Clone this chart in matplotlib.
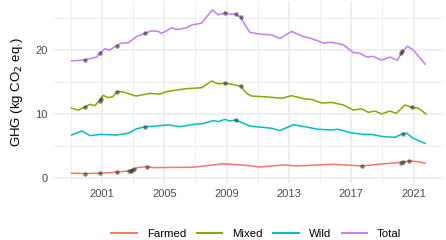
import numpy as np
import matplotlib
matplotlib.use("Agg")
import matplotlib.pyplot as plt
from matplotlib.ticker import FixedLocator

plt.rcParams['font.family'] = ['Liberation Sans', 'DejaVu Sans']

# line data (decimal year, kg CO2 eq.)
farmed_x = [1999.05, 1999.9, 2000.9, 2001.95, 2002.9, 2003.27, 2003.9, 2004.3, 2006.86, 2008.8,
            2009.86, 2010.4, 2011.14, 2012.64, 2013.5, 2015.85, 2017.67, 2019.05, 2020.25, 2020.73,
            2021.2, 2021.73]
farmed_y = [0.73, 0.68, 0.73, 0.89, 1.15, 1.6, 1.77, 1.6, 1.67, 2.2,
            2.03, 1.93, 1.7, 2.03, 1.87, 2.13, 1.87, 2.19, 2.45, 2.65,
            2.55, 2.3]

mixed_x = [1999.05, 1999.48, 1999.9, 2000.23, 2000.55, 2000.87, 2001.08, 2001.4, 2001.7, 2001.95,
           2002.26, 2003.2, 2004.08, 2004.72, 2005.15, 2005.7, 2006.4, 2007.4, 2008.04, 2008.47,
           2008.9, 2009.43, 2009.92, 2010.29, 2010.6, 2011.67, 2012.53, 2013.17, 2014.03, 2014.5,
           2015.1, 2015.74, 2016.5, 2017.13, 2017.67, 2018.1, 2018.52, 2018.95, 2019.48, 2019.9,
           2020.45, 2020.87, 2021.3, 2021.8]
mixed_y = [10.9, 10.6, 11.1, 11.5, 11.3, 12.2, 12.9, 12.55, 12.7, 13.5,
           13.5, 12.8, 13.2, 13.1, 13.5, 13.7, 13.95, 14.1, 15.15, 14.7,
           14.8, 14.6, 14.3, 13.2, 12.8, 12.65, 12.45, 12.85, 12.35, 12.25,
           11.7, 11.8, 11.4, 10.6, 10.8, 10.25, 10.45, 10.0, 10.45, 10.1,
           11.4, 11.05, 10.9, 10.0]

wild_x = [1999.05, 1999.7, 2000.23, 2000.87, 2001.95, 2002.7, 2003.2, 2003.76, 2004.5, 2005.25,
          2006.0, 2006.97, 2007.5, 2008.15, 2008.47, 2008.9, 2009.2, 2009.58, 2009.92, 2010.3,
          2010.5, 2011.35, 2011.9, 2012.43, 2013.28, 2014.03, 2014.88, 2015.63, 2016.17, 2016.9,
          2017.77, 2018.3, 2019.05, 2019.8, 2020.3, 2020.55, 2020.98, 2021.73]
wild_y = [6.7, 7.35, 6.6, 6.8, 6.7, 7.0, 7.65, 8.0, 8.1, 8.3,
          8.0, 8.4, 8.5, 8.95, 8.8, 9.15, 8.9, 9.05, 8.7, 8.3,
          8.1, 7.9, 7.75, 7.4, 8.3, 8.0, 7.6, 7.5, 7.6, 7.1,
          6.8, 6.8, 6.45, 6.35, 6.9, 7.0, 6.2, 5.4]

total_x = [1999.05, 1999.9, 2000.66, 2000.9, 2001.2, 2001.5, 2001.95, 2002.26, 2002.7, 2003.2,
           2003.76, 2004.19, 2004.6, 2004.83, 2005.15, 2005.47, 2005.8, 2006.4, 2006.76, 2007.4,
           2007.72, 2008.08, 2008.47, 2008.9, 2009.2, 2009.58, 2009.92, 2010.18, 2010.5, 2011.25,
           2011.9, 2012.42, 2013.17, 2013.92, 2014.5, 2015.2, 2015.74, 2016.5, 2017.13, 2017.56,
           2017.99, 2018.4, 2018.95, 2019.48, 2019.95, 2020.24, 2020.6, 2020.98, 2021.73]
total_y = [18.3, 18.45, 18.9, 19.6, 20.2, 20.0, 20.7, 21.1, 21.1, 22.1,
           22.6, 23.0, 22.9, 22.6, 23.0, 23.5, 23.2, 23.45, 23.9, 24.2,
           25.2, 26.25, 25.5, 25.8, 25.6, 25.6, 25.1, 23.9, 22.75, 22.45,
           22.35, 21.8, 22.9, 22.1, 21.75, 21.1, 21.2, 20.8, 19.6, 19.5,
           18.9, 19.0, 18.4, 18.9, 18.4, 19.6, 20.6, 20.0, 17.8]

# highlighted points
pts_x = [1999.9, 2000.9, 2001.95, 2003.76, 2008.9, 2009.58, 2009.92, 2020.2, 2020.28,
         1999.9, 2000.85, 2000.95, 2001.95, 2008.9, 2009.92, 2020.87,
         2003.76, 2009.58, 2020.3,
         1999.9, 2000.9, 2001.95, 2002.75, 2002.85, 2002.95, 2003.05, 2003.9, 2017.67, 2020.2,
         2020.3, 2020.73]
pts_y = [18.45, 19.6, 20.7, 22.6, 25.8, 25.6, 25.1, 19.5, 19.8,
         11.1, 12.0, 12.3, 13.5, 14.8, 14.3, 11.05,
         8.0, 9.05, 6.9,
         0.68, 0.73, 0.89, 1.05, 1.15, 1.25, 1.35, 1.77, 1.87, 2.4,
         2.45, 2.65]

series = ['Farmed', 'Mixed', 'Wild', 'Total']
colors = ['#F8766D', '#7CAE00', '#00BFC4', '#C77CFF']

fig = plt.figure(figsize=(4.46, 2.40), dpi=100)
ax = fig.add_axes([53 / 446, 57 / 240, 390 / 446, 182 / 240])

for xs, ys, name, c in zip([farmed_x, mixed_x, wild_x, total_x],
                           [farmed_y, mixed_y, wild_y, total_y], series, colors):
    ax.plot(xs, ys, color=c, lw=1.1, label=name, zorder=3)

ax.scatter(pts_x, pts_y, s=10, color='#3a3a3a', alpha=0.65, lw=0, zorder=4)

ax.set_xlim(1997.86, 2022.89)
ax.set_ylim(-0.8, 27.66)
ax.xaxis.set_major_locator(FixedLocator([2001, 2005, 2009, 2013, 2017, 2021]))
ax.xaxis.set_minor_locator(FixedLocator([1999, 2003, 2007, 2011, 2015, 2019]))
ax.yaxis.set_major_locator(FixedLocator([0, 10, 20]))
ax.yaxis.set_minor_locator(FixedLocator([5, 15, 25]))
ax.grid(which='major', color='#EBEBEB', lw=1.1, zorder=0)
ax.grid(which='minor', color='#EBEBEB', lw=0.55, zorder=0)
for s in ax.spines.values():
    s.set_visible(False)
ax.tick_params(which='both', length=0, labelsize=8, labelcolor='#4D4D4D', pad=4)
ax.set_ylabel('GHG (kg CO$_2$ eq.)', fontsize=9.5, labelpad=7)

leg = fig.legend(loc='center', bbox_to_anchor=(0.575, 0.027), ncol=4, frameon=False,
                 fontsize=8.2, handlelength=2.2, handletextpad=0.9, columnspacing=0.95)
for line in leg.get_lines():
    line.set_linewidth(1.4)

fig.savefig('out.png', dpi=100)
